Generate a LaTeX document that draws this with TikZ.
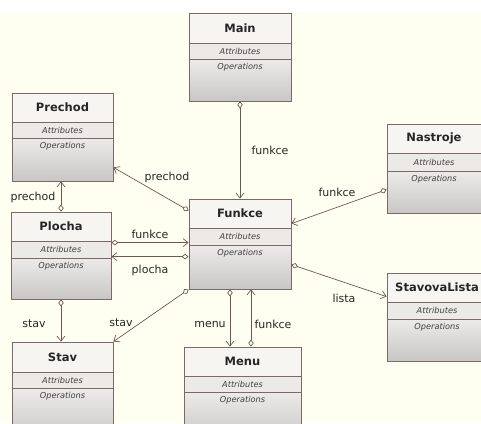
\documentclass[tikz,border=0pt]{standalone}
\usepackage{fontspec}
\setmainfont{DejaVu Sans}
\usetikzlibrary{arrows.meta}
\definecolor{bgcol}{RGB}{255,255,241}
\definecolor{titlefill}{RGB}{246,245,242}
\definecolor{attrfill}{RGB}{236,234,231}
\definecolor{opstop}{RGB}{236,235,233}
\definecolor{opsbot}{RGB}{200,199,197}
\definecolor{boxborder}{RGB}{122,106,102}
\definecolor{linecol}{RGB}{110,88,84}
\tikzset{
  classbox/.style={draw=boxborder, line width=0.8pt, inner sep=0pt, rectangle},
  sepline/.style={draw=boxborder, line width=0.6pt},
  titletext/.style={font=\bfseries\fontsize{11.5}{13}\selectfont, text=black!85},
  comptext/.style={font=\itshape\fontsize{8.2}{9}\selectfont, text=black!75},
  lbl/.style={font=\fontsize{11}{13}\selectfont, text=black!85, inner sep=1pt},
  assoc/.style={draw=linecol, line width=0.7pt,
    {Diamond[open,length=7pt,width=5.5pt]}-{Straight Barb[length=5pt,width=8pt]}}
}
% #1 name, #2 x1, #3 y1, #4 x2, #5 y2, #6 sep1 y, #7 sep2 y, #8 title
\newcommand\umlbox[8]{%
  \fill[titlefill] (#2,#3) rectangle (#4,#6);
  \fill[attrfill] (#2,#6) rectangle (#4,#7);
  \shade[top color=opstop, bottom color=opsbot] (#2,#7) rectangle (#4,#5);
  \draw[sepline] (#2,#6) -- (#4,#6) (#2,#7) -- (#4,#7);
  \node[classbox, minimum width={(#4-#2)*1pt}, minimum height={(#5-#3)*1pt}]
    (#1) at ({(#2+#4)/2},{(#3+#5)/2}) {};
  \node[titletext] (#1-t) at ({(#2+#4)/2},{(#3+#6)/2}) {#8};
  \node[comptext] (#1-a) at ({(#2+#4)/2},{(#6+#7)/2}) {Attributes};
  \node[comptext] (#1-o) at ({(#2+#4)/2},{#7+8}) {Operations};
}
\begin{document}
\begin{tikzpicture}[x=1pt,y=-1pt]
\useasboundingbox (0,0) rectangle (481,423);
\clip (0,0) rectangle (481,423);
\fill[white] (0,0) rectangle (481,12);
\fill[bgcol] (0,12) rectangle (481,423);

\umlbox{main}{189}{13}{291}{101}{43}{59}{Main}
\umlbox{prechod}{12}{93}{113}{181}{122}{138}{Prechod}
\umlbox{plocha}{11}{212}{111}{299}{241}{258}{Plocha}
\umlbox{stav}{12}{342}{113}{440}{372}{388}{Stav}
\umlbox{funkce}{189}{199}{291}{289}{228}{245}{Funkce}
\umlbox{nastroje}{387}{124}{481}{213}{153}{171}{Nastroje}
\umlbox{lista}{387}{273}{487}{361}{302}{319}{StavovaLista}
\umlbox{menu}{184}{347}{301}{440}{376}{392}{Menu}

% connectors
\draw[assoc] (main.south) -- (funkce.north);
\draw[assoc] ([yshift=-12pt]funkce.north west) -- ([yshift=14pt]prechod.south east);
\draw[assoc] (plocha.north) -- (plocha.north |- prechod.south);
\draw[assoc] ([yshift=-31pt]plocha.north east) -- ([yshift=-44pt]funkce.north west);
\draw[assoc] ([yshift=-58pt]funkce.north west) -- ([yshift=-45pt]plocha.north east);
\draw[assoc] (plocha.south) -- (plocha.south |- stav.north);
\draw[assoc] (funkce.south west) -- (stav.north east);
\draw[assoc] ([xshift=-10pt]funkce.south) -- ([xshift=-12.5pt]menu.north);
\draw[assoc] ([xshift=8.5pt]menu.north) -- ([xshift=11pt]funkce.south);
\draw[assoc] ([yshift=-66pt]nastroje.north west) -- ([yshift=-25pt]funkce.north east);
\draw[assoc] ([yshift=-66pt]funkce.north east) -- ([yshift=-24pt]lista.north west);

% labels
\node[lbl] (l1) at (270,150) {funkce};
\node[lbl] (l2) at (167,177) {prechod};
\node[lbl] (l3) at (33,197) {prechod};
\node[lbl] (l4) at (150,234) {funkce};
\node[lbl] (l5) at (150,270) {plocha};
\node[lbl] (l6) at (34,324) {stav};
\node[lbl] (l7) at (121,323) {stav};
\node[lbl] (l8) at (210,324) {menu};
\node[lbl] (l9) at (273,324) {funkce};
\node[lbl] (l10) at (337,192) {funkce};
\node[lbl] (l11) at (344,298) {lista};
\end{tikzpicture}
\end{document}
